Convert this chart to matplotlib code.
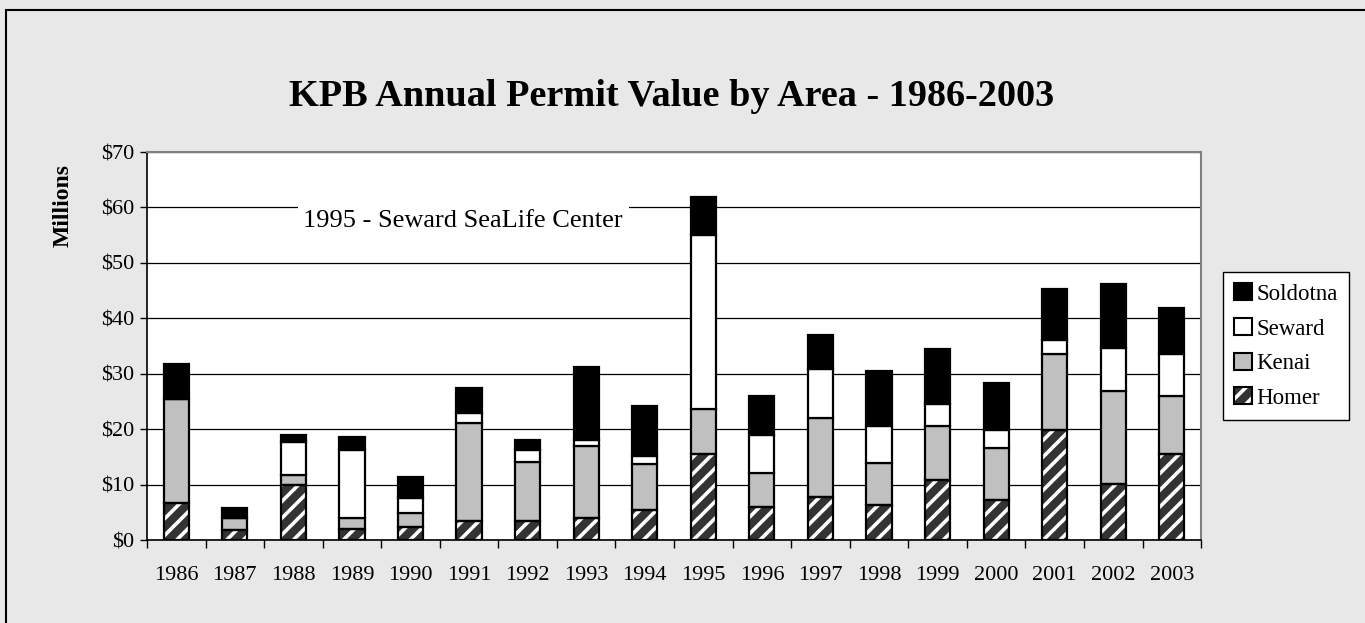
import numpy as np
import matplotlib
matplotlib.use("Agg")
import matplotlib.pyplot as plt
from matplotlib.patches import Patch, Rectangle
from matplotlib.legend_handler import HandlerTuple
from matplotlib.ticker import FuncFormatter, FixedLocator

#---------------------------------
# data ($ millions)
years = ["1986", "1987", "1988", "1989", "1990", "1991", "1992", "1993", "1994",
         "1995", "1996", "1997", "1998", "1999", "2000", "2001", "2002", "2003"]
homer    = [6.6, 1.8, 9.9, 2.0, 2.3, 3.4, 3.5, 3.9, 5.5, 15.5, 5.9, 7.85, 6.3, 10.9, 7.2, 19.9, 10.1, 15.5]
kenai    = [18.9, 2.1, 1.85, 1.9, 2.65, 17.8, 10.6, 13.0, 8.2, 8.1, 6.15, 14.15, 7.6, 9.6, 9.4, 13.6, 16.7, 10.4]
seward   = [0.0, 0.0, 5.95, 12.4, 2.7, 1.8, 2.2, 1.2, 1.5, 31.5, 6.95, 8.9, 6.6, 4.0, 3.3, 2.5, 7.9, 7.7]
soldotna = [6.3, 1.8, 1.2, 2.2, 3.8, 4.4, 1.8, 13.1, 8.9, 6.7, 6.9, 6.0, 10.0, 9.9, 8.4, 9.3, 11.5, 8.3]

title = "KPB Annual Permit Value by Area - 1986-2003"
note = "1995 - Seward SeaLife Center"

#---------------------------------
plt.rcParams["font.family"] = ["Liberation Serif", "DejaVu Serif"]
plt.rcParams["hatch.linewidth"] = 2.6

bg = "#e8e8e8"
fig = plt.figure(figsize=(13.65, 6.23), dpi=100, facecolor=bg)
ax = fig.add_axes([0.1077, 0.1332, 0.7722, 0.6228])
ax.set_facecolor("white")

x = np.arange(len(years))
w = 0.43
homer = np.array(homer)
kenai = np.array(kenai)
seward = np.array(seward)
soldotna = np.array(soldotna)

# Homer: dark bar with white diagonal stripes, then a black outline on top
ax.bar(x, homer, w, color="#333333", edgecolor="white", linewidth=0, hatch="//", zorder=3)
ax.bar(x, homer, w, fill=False, edgecolor="black", linewidth=1.6, zorder=4)
b1 = homer
ax.bar(x, kenai, w, bottom=b1, color="#c0c0c0", edgecolor="black", linewidth=1.6, zorder=3)
b2 = b1 + kenai
ax.bar(x, seward, w, bottom=b2, color="white", edgecolor="black", linewidth=1.6, zorder=3)
b3 = b2 + seward
ax.bar(x, soldotna, w, bottom=b3, color="black", edgecolor="black", linewidth=1.6, zorder=3)

ax.set_xlim(-0.5, len(years) - 0.5)
ax.set_ylim(0, 70)
ax.set_yticks(np.arange(0, 71, 10))
ax.yaxis.set_major_formatter(FuncFormatter(lambda v, p: "${:.0f}".format(v)))
ax.set_xticks(x)
ax.set_xticklabels(years)
ax.xaxis.set_minor_locator(FixedLocator(np.arange(-0.5, len(years), 1.0)))
ax.tick_params(axis="x", which="major", length=0, pad=19, labelsize=16)
ax.tick_params(axis="x", which="minor", length=6, width=1, direction="out")
ax.tick_params(axis="y", length=5, width=1, direction="out", pad=4, labelsize=16)

ax.yaxis.grid(True, color="black", linewidth=0.9, zorder=1)
ax.set_axisbelow(True)
for s in ["top", "right"]:
    ax.spines[s].set_color("#808080")
    ax.spines[s].set_linewidth(1.5)
for s in ["left", "bottom"]:
    ax.spines[s].set_color("black")
    ax.spines[s].set_linewidth(1.2)

# note in a white box that covers the gridline
ax.text(4.9, 57.6, note, fontsize=19, ha="center", va="center", zorder=2,
        bbox=dict(facecolor="white", edgecolor="none", pad=4))

fig.text(0.492, 0.845, title, fontsize=27.5, fontweight="bold", ha="center", va="center")
fig.text(0.046, 0.67, "Millions", fontsize=17, fontweight="bold", rotation=90,
         ha="center", va="center")

# legend
h_sol = Patch(facecolor="black", edgecolor="black", linewidth=1.5)
h_sew = Patch(facecolor="white", edgecolor="black", linewidth=1.5)
h_ken = Patch(facecolor="#c0c0c0", edgecolor="black", linewidth=1.5)
h_hom = (Patch(facecolor="#333333", edgecolor="white", linewidth=0, hatch="//"),
         Patch(fill=False, edgecolor="black", linewidth=1.5))
leg = fig.legend([h_sol, h_sew, h_ken, h_hom], ["Soldotna", "Seward", "Kenai", "Homer"],
                 loc="upper left", bbox_to_anchor=(0.896, 0.5634), bbox_transform=fig.transFigure,
                 borderaxespad=0, fontsize=16.5, handlelength=0.75, handleheight=0.75,
                 handletextpad=0.2, labelspacing=0.58, borderpad=0.5, fancybox=False,
                 framealpha=1, edgecolor="black", facecolor="white",
                 handler_map={tuple: HandlerTuple(ndivide=1, pad=0)})
leg.get_frame().set_linewidth(1.0)

# outer chart border (top and left visible)
fig.add_artist(Rectangle((6 / 1365, -0.1), 1.2, 1.1 - 10 / 623, transform=fig.transFigure,
                         fill=False, edgecolor="black", linewidth=1.5))

fig.savefig("out.png", dpi=100, facecolor=bg)
plt.close()
